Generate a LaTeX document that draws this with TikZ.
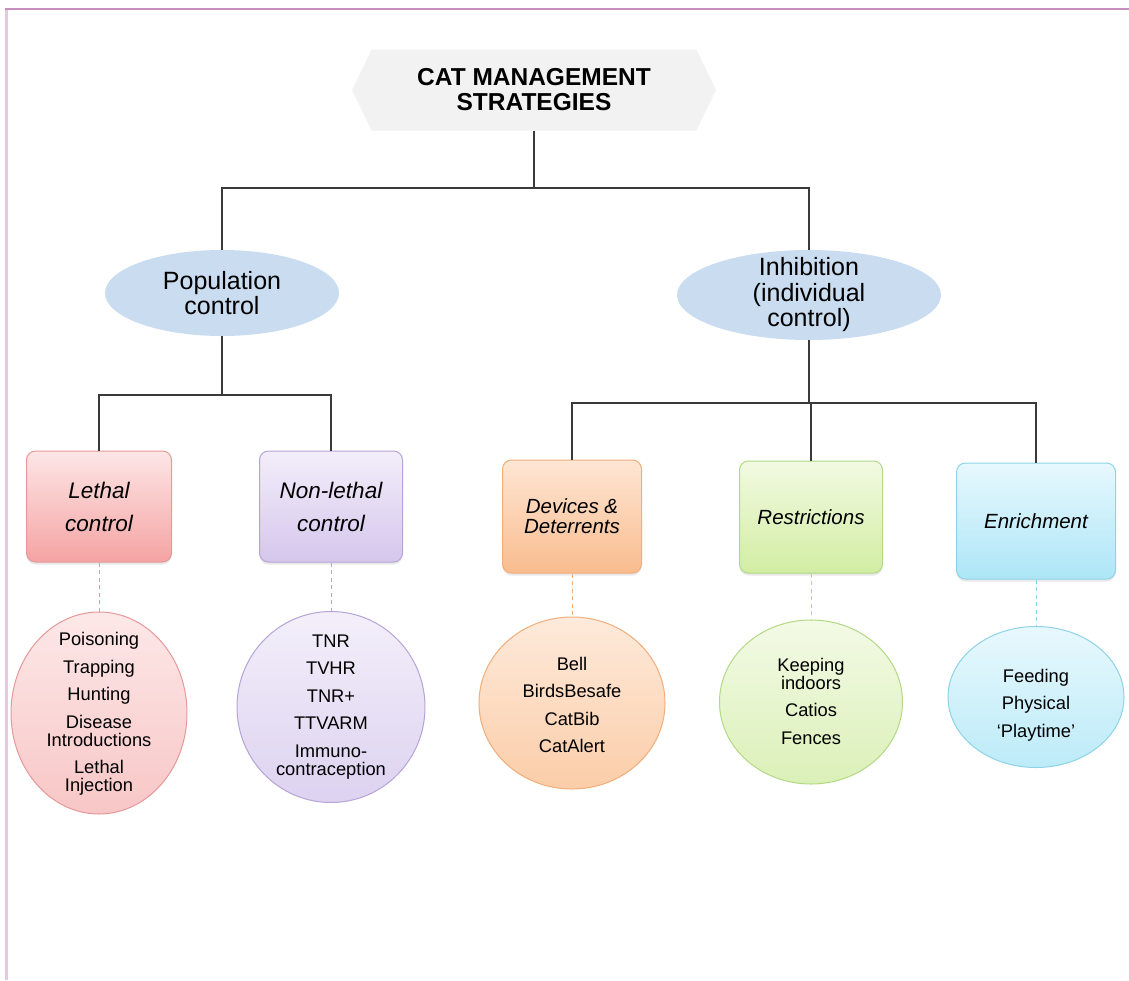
\documentclass[tikz,border=0pt]{standalone}
\usepackage{fontspec}
\setmainfont{Liberation Sans}
\usetikzlibrary{shapes.geometric,shapes.symbols,shadows}
\definecolor{framepink}{HTML}{C68FBE}
\definecolor{frameside}{HTML}{E6C8E0}
\definecolor{linkgray}{HTML}{3A3A3A}
\definecolor{titlegray}{HTML}{F2F2F2}
\definecolor{groupblue}{HTML}{CADCF0}
\definecolor{pinkline}{HTML}{E5999A}
\definecolor{purpleline}{HTML}{B6A4D8}
\definecolor{orangeline}{HTML}{F1AE7B}
\definecolor{greenline}{HTML}{B3D985}
\definecolor{cyanline}{HTML}{8ED3E8}
\tikzset{
  catbox/.style={draw, rounded corners=9pt, line width=1pt, align=center,
    font=\fontsize{20.5}{20}\selectfont\itshape,
    drop shadow={opacity=0.18, shadow xshift=0pt, shadow yshift=-2.5pt}},
  bubble/.style={ellipse, draw, line width=1pt, inner sep=0pt},
  bubbletext/.style={align=center, inner sep=0pt, font=\fontsize{18.3}{18}\selectfont},
  groupell/.style={ellipse, fill=groupblue, inner sep=0pt},
  grouptext/.style={align=center, inner sep=0pt, font=\fontsize{25}{25.5}\selectfont},
  link/.style={draw=linkgray, line width=1.4pt},
  dashlink/.style={dashed, line width=1pt, dash pattern=on 4pt off 3.5pt}
}
\begin{document}
\begin{tikzpicture}[x=1pt,y=-1pt]
\useasboundingbox[fill=white] (0,0) rectangle (1129,980);
\draw[frameside, line width=3pt] (6,9) -- (6,980);
\draw[framepink, line width=2.5pt] (5,9) -- (1129,9);
\node[signal, signal to=west and east, signal pointer angle=128, fill=titlegray, minimum width=364pt, minimum height=81pt, align=center, font=\fontsize{24.5}{25}\selectfont\bfseries] (title) at (534,90) {CAT MANAGEMENT\\STRATEGIES};
\node[groupell, minimum width=234pt, minimum height=86pt] (pop) at (222,293) {};
\node[grouptext] (poptext) at (222,293) {Population\\control};
\node[groupell, minimum width=264pt, minimum height=90pt] (inh) at (809,295) {};
\node[grouptext] (inhtext) at (809,295) {Inhibition\\(individual\\control)};
\coordinate (topjoin) at (534,188);
\coordinate (popjoin) at (222,395);
\coordinate (inhjoin) at (809,403);
\node[catbox, top color={rgb,255:red,253;green,230;blue,230}, bottom color={rgb,255:red,245;green,163;blue,163}, draw=pinkline, minimum width=145pt, minimum height=111pt, font=\fontsize{22.5}{33}\selectfont\itshape] (lethal) at (99,506.5) {Lethal\\control};
\node[catbox, top color={rgb,255:red,243;green,238;blue,250}, bottom color={rgb,255:red,213;green,198;blue,236}, draw=purpleline, minimum width=143pt, minimum height=111pt, font=\fontsize{22.5}{33}\selectfont\itshape] (nonlethal) at (331,506.5) {Non-lethal\\control};
\node[catbox, top color={rgb,255:red,254;green,230;blue,212}, bottom color={rgb,255:red,249;green,188;blue,142}, draw=orangeline, minimum width=139pt, minimum height=113pt] (devices) at (572,516.5) {Devices \&\\Deterrents};
\node[catbox, top color={rgb,255:red,242;green,250;blue,226}, bottom color={rgb,255:red,210;green,237;blue,163}, draw=greenline, minimum width=143pt, minimum height=112pt] (restrict) at (811,517) {Restrictions};
\node[catbox, top color={rgb,255:red,231;green,248;blue,253}, bottom color={rgb,255:red,173;green,230;blue,247}, draw=cyanline, minimum width=159pt, minimum height=116pt] (enrich) at (1036,521) {Enrichment};
\node[bubble, top color={rgb,255:red,253;green,232;blue,232}, bottom color={rgb,255:red,248;green,198;blue,198}, draw=pinkline, minimum width=176pt, minimum height=202pt] (lethalell) at (99,713) {};
\node[bubble, top color={rgb,255:red,243;green,239;blue,250}, bottom color={rgb,255:red,221;green,210;blue,240}, draw=purpleline, minimum width=188pt, minimum height=191pt] (nonlethalell) at (331,707) {};
\node[bubble, top color={rgb,255:red,254;green,234;blue,219}, bottom color={rgb,255:red,251;green,205;blue,168}, draw=orangeline, minimum width=186pt, minimum height=172pt] (devicesell) at (572,703) {};
\node[bubble, top color={rgb,255:red,243;green,250;blue,230}, bottom color={rgb,255:red,219;green,240;blue,184}, draw=greenline, minimum width=183pt, minimum height=164pt] (restrictell) at (811,702) {};
\node[bubble, top color={rgb,255:red,232;green,248;blue,253}, bottom color={rgb,255:red,188;green,235;blue,248}, draw=cyanline, minimum width=176pt, minimum height=141pt] (enrichell) at (1036,697) {};
\node[bubbletext] (lethallist) at (99,714) {Poisoning\\[9.5pt]Trapping\\[9.5pt]Hunting\\[9.5pt]Disease\\Introductions\\[9.5pt]Lethal\\Injection};
\node[bubbletext] (nonlethallist) at (331,707) {TNR\\[9.5pt]TVHR\\[9.5pt]TNR+\\[9.5pt]TTVARM\\[9.5pt]Immuno-\\contraception};
\node[bubbletext] (deviceslist) at (572,705) {Bell\\[9.5pt]BirdsBesafe\\[9.5pt]CatBib\\[9.5pt]CatAlert};
\node[bubbletext] (restrictlist) at (811,701) {Keeping\\indoors\\[9.5pt]Catios\\[9.5pt]Fences};
\node[bubbletext] (enrichlist) at (1036,705) {Feeding\\[9.5pt]Physical\\[9.5pt]`Playtime'};
\draw[link] (title.south) -- (topjoin);
\draw[link] (pop.north) |- (topjoin) -| (inh.north);
\draw[link] (pop.south) -- (popjoin);
\draw[link] (lethal.north) |- (popjoin) -| (nonlethal.north);
\draw[link] (inh.south) -- (inhjoin);
\draw[link] (devices.north) |- (inhjoin) -| (enrich.north);
\draw[link] (restrict.north) -- (restrict.north |- inhjoin);
\draw[dashlink, pinkline] (lethal.south) -- (lethalell.north);
\draw[dashlink, purpleline] (nonlethal.south) -- (nonlethalell.north);
\draw[dashlink, orangeline] (devices.south) -- (devicesell.north);
\draw[dashlink, greenline] (restrict.south) -- (restrictell.north);
\draw[dashlink, cyanline] (enrich.south) -- (enrichell.north);
\end{tikzpicture}
\end{document}
